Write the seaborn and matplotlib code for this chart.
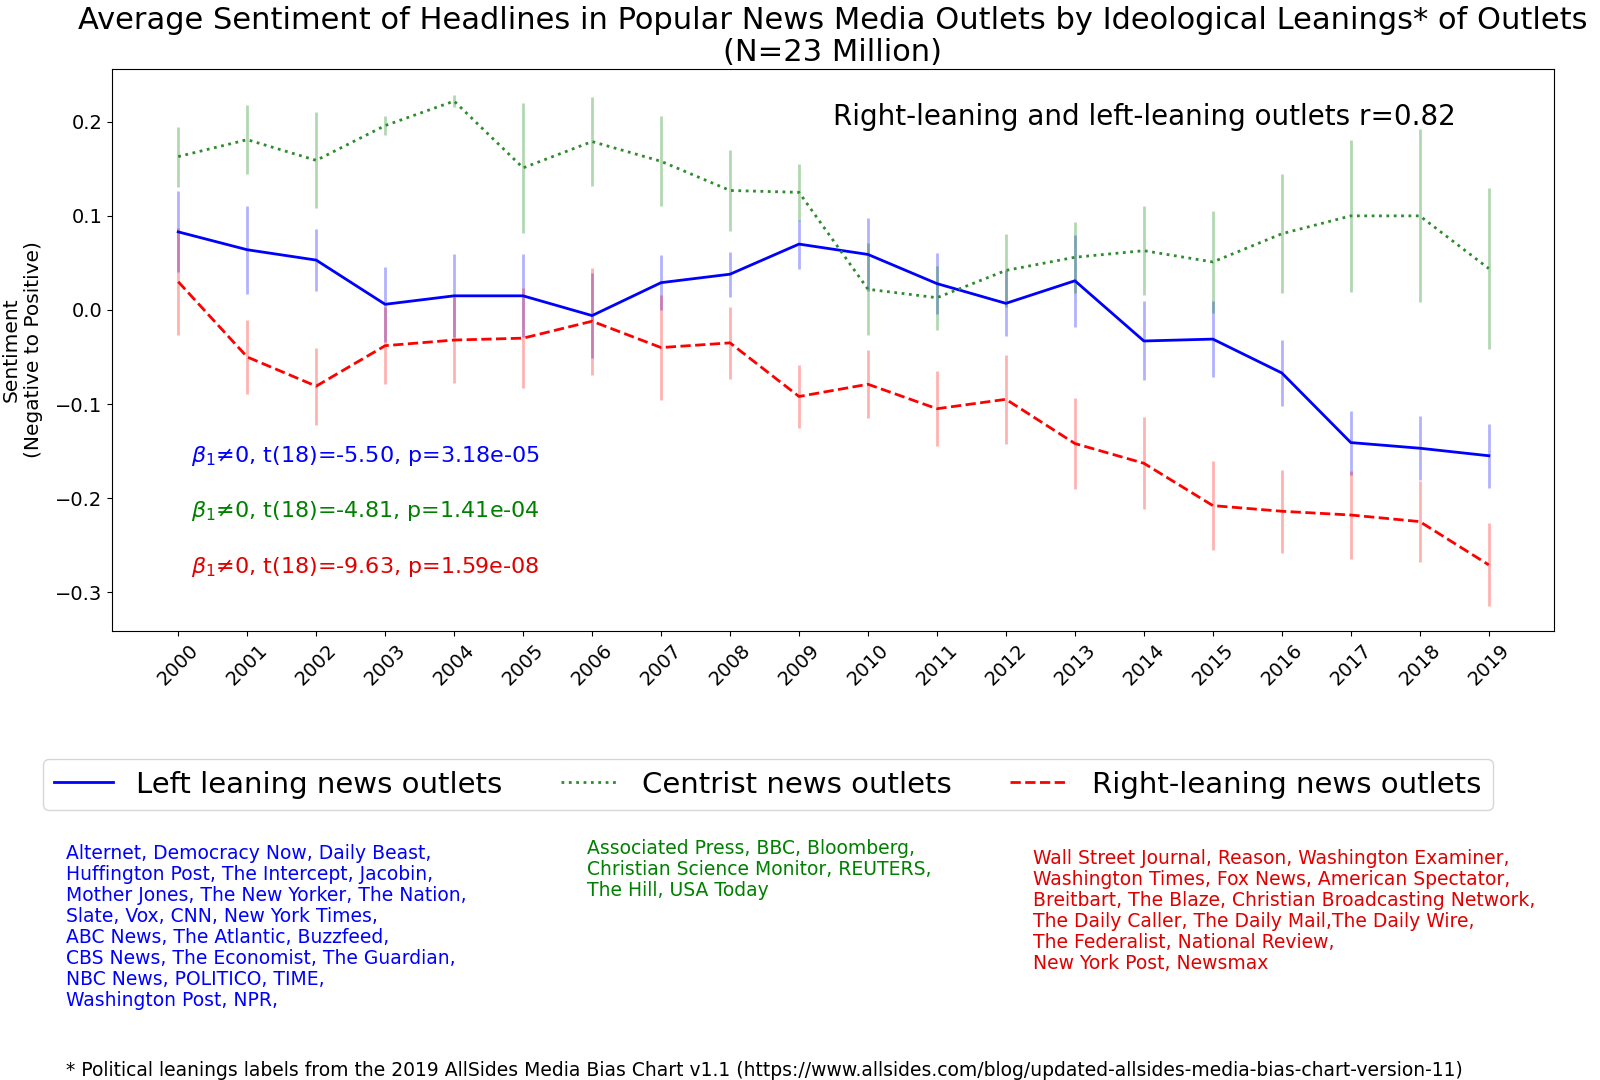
import numpy as np
import pandas as pd
import matplotlib
matplotlib.use('Agg')
import matplotlib.pyplot as plt
import seaborn as sns

# Years on the x axis
years = list(range(2000, 2020))

# Mean sentiment per year and half-length of error bars
left_mean = [0.083, 0.064, 0.053, 0.006, 0.015, 0.015, -0.006, 0.029, 0.038, 0.070,
             0.059, 0.028, 0.007, 0.031, -0.033, -0.031, -0.067, -0.141, -0.147, -0.155]
left_err = [0.043, 0.047, 0.033, 0.040, 0.044, 0.044, 0.045, 0.029, 0.024, 0.026,
            0.039, 0.032, 0.035, 0.049, 0.042, 0.040, 0.035, 0.034, 0.034, 0.034]

centre_mean = [0.163, 0.181, 0.159, 0.196, 0.222, 0.151, 0.179, 0.158, 0.127, 0.125,
               0.022, 0.013, 0.042, 0.056, 0.063, 0.051, 0.081, 0.100, 0.100, 0.044]
centre_err = [0.032, 0.037, 0.051, 0.010, 0.006, 0.069, 0.047, 0.048, 0.043, 0.030,
              0.049, 0.034, 0.039, 0.038, 0.047, 0.054, 0.063, 0.081, 0.092, 0.086]

right_mean = [0.030, -0.050, -0.081, -0.038, -0.032, -0.030, -0.012, -0.040, -0.035, -0.092,
              -0.079, -0.105, -0.095, -0.142, -0.163, -0.208, -0.214, -0.218, -0.225, -0.271]
right_err = [0.057, 0.039, 0.041, 0.041, 0.046, 0.053, 0.057, 0.056, 0.038, 0.033,
             0.036, 0.040, 0.047, 0.048, 0.049, 0.047, 0.044, 0.047, 0.043, 0.044]

series_names = ['Left leaning news outlets', 'Centrist news outlets', 'Right-leaning news outlets']

stats_text = ['$\\beta_1$≠0, t(18)=-5.50, p=3.18e-05',
              '$\\beta_1$≠0, t(18)=-4.81, p=1.41e-04',
              '$\\beta_1$≠0, t(18)=-9.63, p=1.59e-08']

left_outlets = ('Alternet, Democracy Now, Daily Beast,\nHuffington Post, The Intercept, Jacobin,\n'
                'Mother Jones, The New Yorker, The Nation,\nSlate, Vox, CNN, New York Times,\n'
                'ABC News, The Atlantic, Buzzfeed,\nCBS News, The Economist, The Guardian,\n'
                'NBC News, POLITICO, TIME,\nWashington Post, NPR,')
centre_outlets = ('Associated Press, BBC, Bloomberg,\nChristian Science Monitor, REUTERS,\n'
                  'The Hill, USA Today')
right_outlets = ('Wall Street Journal, Reason, Washington Examiner,\n'
                 'Washington Times, Fox News, American Spectator,\n'
                 'Breitbart, The Blaze, Christian Broadcasting Network,\n'
                 'The Daily Caller, The Daily Mail,The Daily Wire,\n'
                 'The Federalist, National Review,\nNew York Post, Newsmax')

footnote = ('* Political leanings labels from the 2019 AllSides Media Bias Chart v1.1 '
            '(https://www.allsides.com/blog/updated-allsides-media-bias-chart-version-11)')

# Long-form table for seaborn
df = pd.DataFrame({
    'year': years * 3,
    'sentiment': left_mean + centre_mean + right_mean,
    'err': left_err + centre_err + right_err,
    'group': [series_names[0]] * 20 + [series_names[1]] * 20 + [series_names[2]] * 20,
})

colors = {series_names[0]: 'blue', series_names[1]: '#2e8b2e', series_names[2]: 'red'}
err_colors = {series_names[0]: 'blue', series_names[1]: 'green', series_names[2]: 'red'}
styles = {series_names[0]: '-', series_names[1]: ':', series_names[2]: '--'}
text_colors = ['blue', 'green', '#e00000']

fig = plt.figure(figsize=(16, 10.8), dpi=100)
ax = fig.add_axes([0.070, 0.416, 0.901, 0.520])

# Error bars first, lines on top
for name in series_names:
    sub = df[df['group'] == name]
    ax.errorbar(sub['year'], sub['sentiment'], yerr=sub['err'], fmt='none',
                ecolor=err_colors[name], elinewidth=2, alpha=0.3, capsize=0)

handles = []
for name in series_names:
    sub = df[df['group'] == name]
    sns.lineplot(data=sub, x='year', y='sentiment', color=colors[name],
                 linestyle=styles[name], linewidth=2, ax=ax, legend=False)
    handles.append(ax.lines[-1])

ax.set_xlim(1999.04, 2019.94)
ax.set_ylim(-0.341, 0.256)
ax.set_xticks(years)
ax.set_xticklabels([str(y) for y in years], rotation=45, fontsize=14)
ax.set_yticks([-0.3, -0.2, -0.1, 0.0, 0.1, 0.2])
ax.tick_params(axis='y', labelsize=14)
ax.set_xlabel('')
ax.set_ylabel('Sentiment\n(Negative to Positive)', fontsize=14.5, linespacing=1.2, labelpad=9)
ax.set_title('Average Sentiment of Headlines in Popular News Media Outlets by Ideological Leanings* of Outlets\n(N=23 Million)',
             fontsize=22, linespacing=1.13)

ax.text(0.5, 0.914, 'Right-leaning and left-leaning outlets r=0.82', transform=ax.transAxes,
        fontsize=20, va='center', ha='left')
for i, (txt, c) in enumerate(zip(stats_text, text_colors)):
    ax.text(0.055, 0.312 - i * 0.099, txt, transform=ax.transAxes, color=c,
            fontsize=16, va='center', ha='left')

fig.legend(handles, series_names, loc='center', bbox_to_anchor=(0.48, 0.2736),
           ncol=3, fontsize=21, columnspacing=2.0)

fig.text(0.041, 0.2185, left_outlets, color='blue', fontsize=13.5, linespacing=1.13,
         va='top', ha='left')
fig.text(0.367, 0.2231, centre_outlets, color='green', fontsize=13.5, linespacing=1.13,
         va='top', ha='left')
fig.text(0.6456, 0.2139, right_outlets, color='#e00000', fontsize=13.5, linespacing=1.13,
         va='top', ha='left')
fig.text(0.041, 0.009, footnote, fontsize=13.5, va='center', ha='left')

fig.savefig('out.png', dpi=100)
